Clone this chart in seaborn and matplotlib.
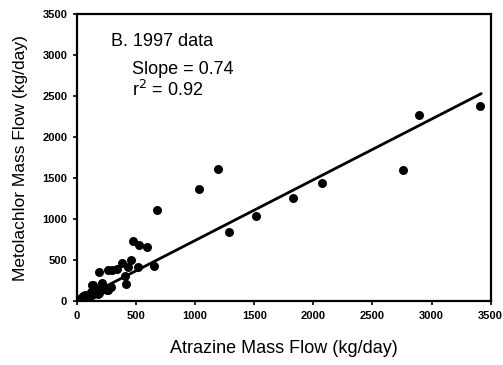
import matplotlib
matplotlib.use("Agg")
import matplotlib.pyplot as plt
import pandas as pd
import seaborn as sns

# Atrazine vs metolachlor mass flow, 1997 (kg/day)
atrazine = [
    3410, 2890, 2755, 2070, 1825, 1515, 1290, 1195, 1030, 674,
    475, 525, 590, 455, 380, 650, 520, 430, 335, 300,
    265, 188, 410, 412, 285, 265, 166, 124, 138, 209,
    10, 20, 30, 40, 50, 60, 70, 80, 90, 100,
    110, 120, 150, 170, 200, 230, 35, 55, 15, 25,
    5, 45, 75, 95, 130, 180, 140, 160, 210, 240,
    65, 85, 105, 115, 190, 250,
]
metolachlor = [
    2385, 2265, 1595, 1440, 1255, 1035, 840, 1610, 1365, 1112,
    728, 690, 660, 500, 465, 425, 415, 410, 395, 378,
    375, 350, 310, 212, 167, 134, 134, 195, 195, 216,
    5, 15, 20, 25, 35, 30, 50, 55, 60, 70,
    75, 90, 100, 110, 130, 150, 40, 60, 30, 10,
    2, 15, 30, 45, 80, 85, 120, 150, 170, 160,
    70, 35, 55, 110, 105, 140,
]

# regression line shown in the figure (slope 0.74)
fit_x = [0, 3420]
fit_y = [0, 2530]

x_ticks = [0, 500, 1000, 1500, 2000, 2500, 3000, 3500]
y_ticks = [0, 500, 1000, 1500, 2000, 2500, 3000, 3500]

df = pd.DataFrame({"atrazine": atrazine, "metolachlor": metolachlor})
fit = pd.DataFrame({"x": fit_x, "y": fit_y})

sns.set_theme(style="ticks")
plt.rcParams["font.family"] = ["Liberation Sans", "DejaVu Sans"]
plt.rcParams["text.color"] = "black"
plt.rcParams["axes.labelcolor"] = "black"
plt.rcParams["xtick.color"] = "black"
plt.rcParams["ytick.color"] = "black"

fig = plt.figure(figsize=(5.03, 3.65), dpi=100)
ax = fig.add_axes([0.153, 0.175, 0.8225, 0.7865])

sns.lineplot(data=fit, x="x", y="y", color="black", linewidth=2.0, ax=ax)
sns.scatterplot(data=df, x="atrazine", y="metolachlor", color="black",
                s=42, edgecolor="black", linewidth=0, ax=ax, zorder=3)

ax.set_xlim(0, 3500)
ax.set_ylim(0, 3500)
ax.set_xticks(x_ticks)
ax.set_yticks(y_ticks)
ax.set_xticklabels([str(t) for t in x_ticks], fontsize=8, fontweight="bold")
ax.set_yticklabels([str(t) for t in y_ticks], fontsize=8, fontweight="bold")
ax.tick_params(direction="out", length=3, width=1.2, color="black", pad=4)

for side in ["top", "right", "bottom", "left"]:
    ax.spines[side].set_visible(True)
    ax.spines[side].set_color("black")
    ax.spines[side].set_linewidth(1.6)

ax.set_xlabel("Atrazine Mass Flow (kg/day)", fontsize=13, labelpad=14)
ax.set_ylabel("Metolachlor Mass Flow (kg/day)", fontsize=12.5, labelpad=10)

ax.text(285, 3160, "B. 1997 data", fontsize=13, va="center", ha="left")
ax.text(465, 2830, "Slope = 0.74", fontsize=13, va="center", ha="left")
ax.text(465, 2580, "r$^2$ = 0.92", fontsize=13, va="center", ha="left")

fig.savefig("out.png", dpi=100)
plt.close(fig)
